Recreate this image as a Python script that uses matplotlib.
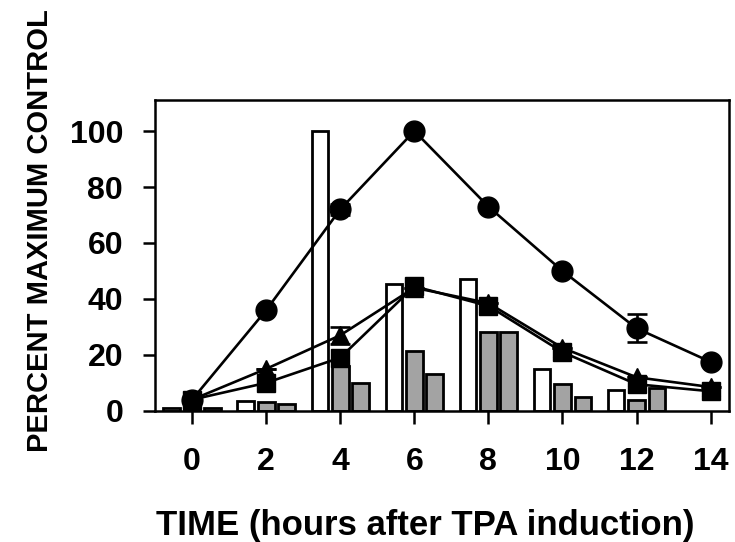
import matplotlib
matplotlib.use("Agg")
import matplotlib.pyplot as plt
import numpy as np

# time points (hours after TPA induction)
hours = [0, 2, 4, 6, 8, 10, 12, 14]

# line series
circle_vals = [4, 36, 72, 100, 73, 50, 29.5, 17.5]
circle_err = [0, 0, 2, 0, 0, 0, 5, 0]
triangle_vals = [4, 15, 27, 44, 38.5, 22.5, 12, 8.5]
triangle_err = [0, 0, 3, 0, 0, 0, 0, 0]
square_vals = [4, 10, 19, 44.5, 37.5, 21, 9.5, 7]

# bar series (no bars at 14 h)
bar_hours = [0, 2, 4, 6, 8, 10, 12]
white_bars = [1, 3.5, 100, 45.5, 47, 15, 7.5]
gray_bars = [1, 3.3, 16, 21.5, 28, 9.7, 4]
gray2_bars = [1, 2.5, 10, 13, 28, 5, 8]

plt.rcParams['font.family'] = ['Liberation Sans', 'DejaVu Sans']
plt.rcParams['font.weight'] = 'bold'

fig = plt.figure(figsize=(7.35, 5.42), dpi=100)
ax = fig.add_axes([0.211, 0.242, 0.781, 0.573])

bw = 0.45
off = 0.55
bx = np.array(bar_hours)
ax.bar(bx - off, white_bars, width=bw, color='white', edgecolor='black', linewidth=2, zorder=2)
ax.bar(bx, gray_bars, width=bw, color='#a3a3a3', edgecolor='black', linewidth=2, zorder=2)
ax.bar(bx + off, gray2_bars, width=bw, color='#a3a3a3', edgecolor='black', linewidth=2, zorder=2)

ax.errorbar(hours, circle_vals, yerr=circle_err, color='black', marker='o', markersize=15,
            linewidth=1.9, capsize=7, capthick=1.9, elinewidth=1.9, zorder=5)
ax.errorbar(hours, triangle_vals, yerr=triangle_err, color='black', marker='^', markersize=13,
            linewidth=1.9, capsize=7, capthick=1.9, elinewidth=1.9, zorder=4)
ax.plot(hours, square_vals, color='black', marker='s', markersize=12.5, linewidth=1.9, zorder=4)

ax.set_xlim(-1, 14.5)
ax.set_ylim(0, 111)
ax.set_xticks(hours)
ax.set_yticks([0, 20, 40, 60, 80, 100])

for s in ax.spines.values():
    s.set_linewidth(1.8)
ax.tick_params(top=False, right=False, direction='out', length=9, width=1.8,
               labelsize=23)
ax.tick_params(axis='x', pad=17)
ax.tick_params(axis='y', pad=14)
for lab in ax.get_xticklabels() + ax.get_yticklabels():
    lab.set_fontweight('bold')

fig.text(0.578, 0.031, "TIME (hours after TPA induction)", fontsize=25,
         fontweight='bold', ha='center', va='center')
fig.text(0.055, 0.575, "PERCENT MAXIMUM CONTROL", rotation=90, fontsize=21,
         fontweight='bold', ha='center', va='center')

fig.savefig("out.png", dpi=100)
